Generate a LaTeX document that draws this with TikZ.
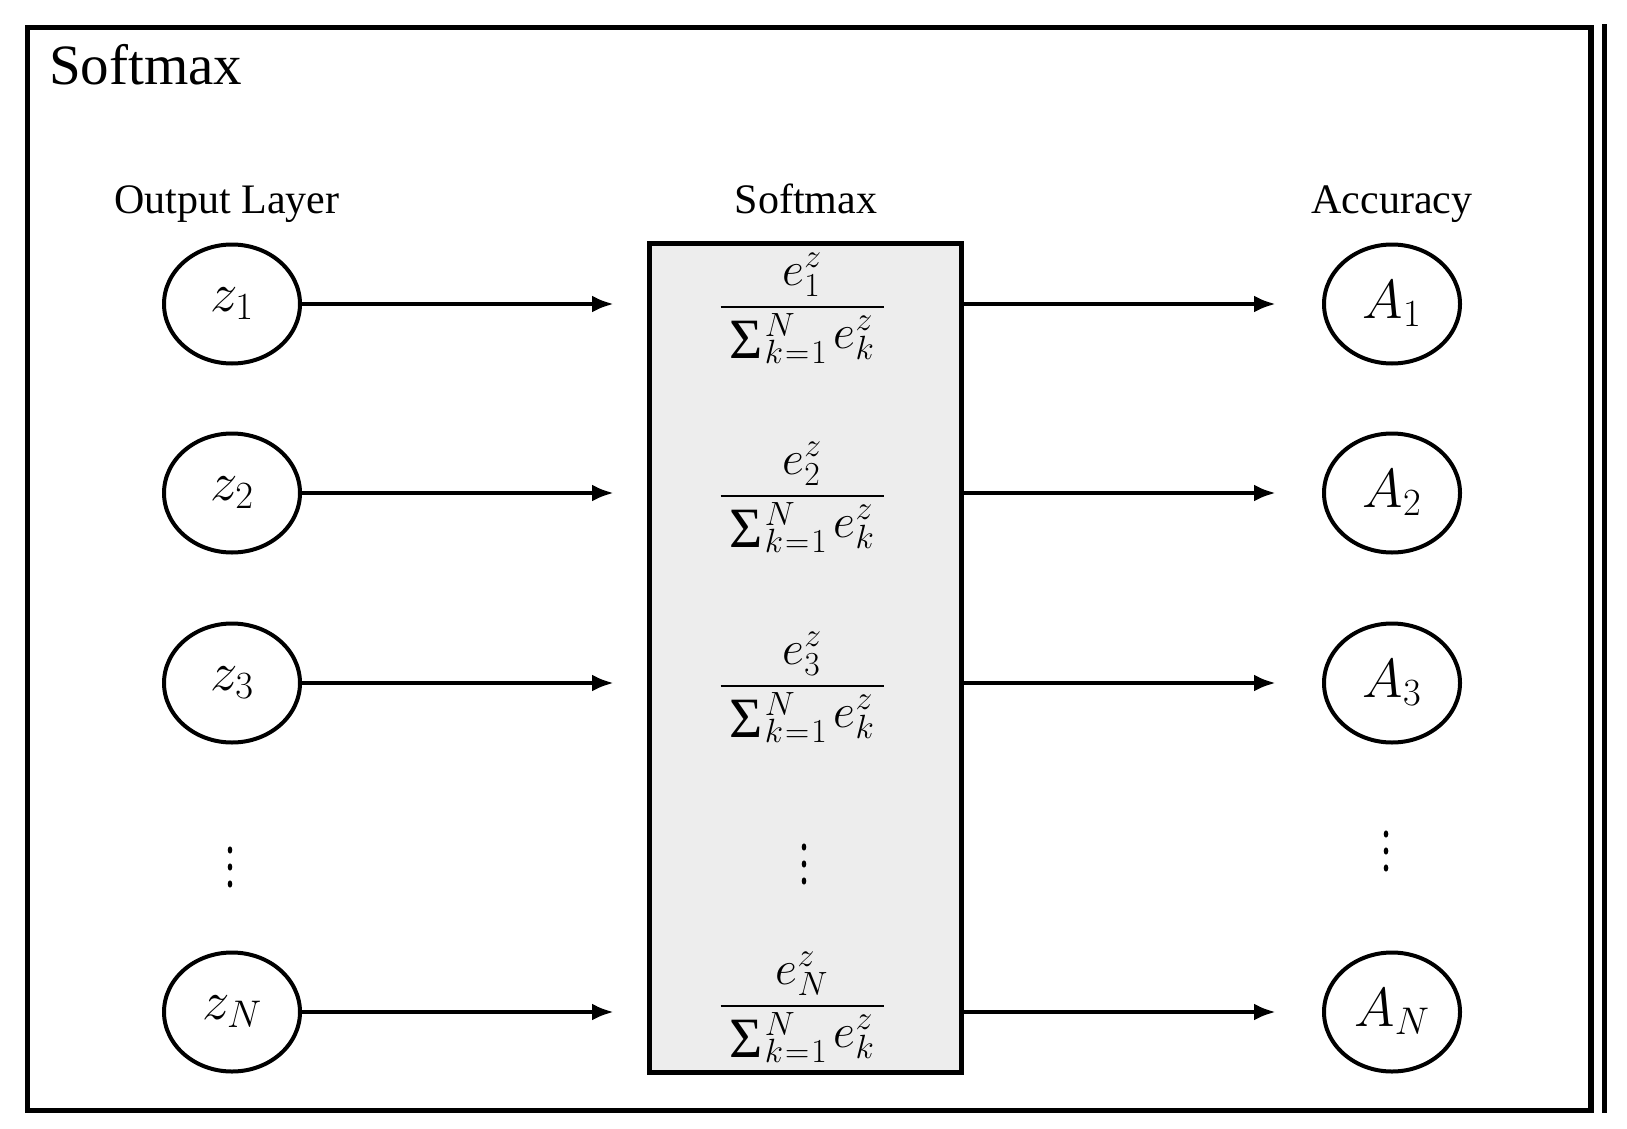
\RequirePackage{fix-cm}
\documentclass[tikz,border=0pt]{standalone}
\usepackage{fontspec}
\setmainfont{Liberation Serif}
\usepackage{amsmath}
\usetikzlibrary{shapes.geometric,arrows.meta,calc}
\definecolor{boxgray}{HTML}{EDEDED}
\newcommand{\denomtext}{%
  \raisebox{-10pt}{\fontsize{57}{60}\selectfont Σ}\kern2pt%
  \rlap{\raisebox{12pt}{$\scriptstyle N$}}%
  \raisebox{-15pt}{$\scriptstyle k\kern2pt{=}\kern2pt1$}\kern7pt%
  $e^{z}_{k}$}
\tikzset{
  neuron/.style={ellipse, draw, line width=4pt, minimum width=136pt, minimum height=119pt, inner sep=0pt, font=\fontsize{55}{66}\selectfont},
  header/.style={font=\fontsize{42}{50}\selectfont, anchor=base, inner sep=0pt},
  fracpart/.style={font=\fontsize{48}{56}\selectfont, anchor=base, inner sep=0pt},
  fracbar/.style={line width=2.8pt},
  arr/.style={line width=4.5pt, -{Latex[length=22pt,width=17pt]}},
  smbox/.style={draw, line width=5pt, fill=boxgray, minimum width=312pt, minimum height=829pt, inner sep=0pt},
  frameline/.style={line width=5.5pt},
  vdot/.style={fill=black}
}
\begin{document}
\begin{tikzpicture}[x=1pt,y=-1pt]
\useasboundingbox (0,0) rectangle (1627,1129);
% outer frame
\draw[frameline] (27.5,27.5) rectangle (1591,1110.5);
\draw[line width=4.5pt] (1604.5,24.5) -- (1604.5,1113);
% title and headers
\node[anchor=base west, inner sep=0pt, font=\fontsize{57}{68}\selectfont] (title) at (49,85) {Softmax};
\node[header] (hout) at (227,213) {Output Layer};
\node[header] (hsm) at (806,213) {Softmax};
\node[header] (hacc) at (1392,213) {Accuracy};
% softmax box
\node[smbox] (box) at (805.5,658) {};
% input neurons
\node[neuron] (z1) at (232,304) {$z_1$};
\node[neuron] (z2) at (232,493) {$z_2$};
\node[neuron] (z3) at (232,683) {$z_3$};
\node[neuron] (zN) at (232,1012) {$z_N$};
% output neurons
\node[neuron] (a1) at (1392,304) {$A_1$};
\node[neuron] (a2) at (1392,493) {$A_2$};
\node[neuron] (a3) at (1392,683) {$A_3$};
\node[neuron] (aN) at (1392,1012) {$A_N$};
% fractions: bar centres
\coordinate (fc1) at (802,307);
\coordinate (fc2) at (802,496);
\coordinate (fc3) at (802,686);
\coordinate (fcN) at (802,1006);
\foreach \n in {1,2,3,N} {
  \node[fracpart] (num\n) at ($(fc\n)+(0,-22)$) {$e^{z}_{\n}$};
  \node[fracpart] (den\n) at ($(fc\n)+(0,41)$) {\denomtext};
  \draw[fracbar] ($(fc\n)+(-81.5,0)$) -- ($(fc\n)+(81.5,0)$);
}
% arrows
\foreach \n in {1,2,3,N} {
  \draw[arr, shorten >=33pt] (z\n) -- (z\n -| box.west);
  \draw[arr, shorten >=46pt] (a\n -| box.east) -- (a\n);
}
% vertical dots
\coordinate (zd) at (230,867);
\coordinate (fd) at (804,864);
\coordinate (ad) at (1386,851);
\foreach \c in {zd,fd,ad} {
  \foreach \d in {-17,0,17} {
    \fill[vdot] ($(\c)+(0,\d)$) ellipse (2.3 and 3.6);
  }
}
\end{tikzpicture}
\end{document}
